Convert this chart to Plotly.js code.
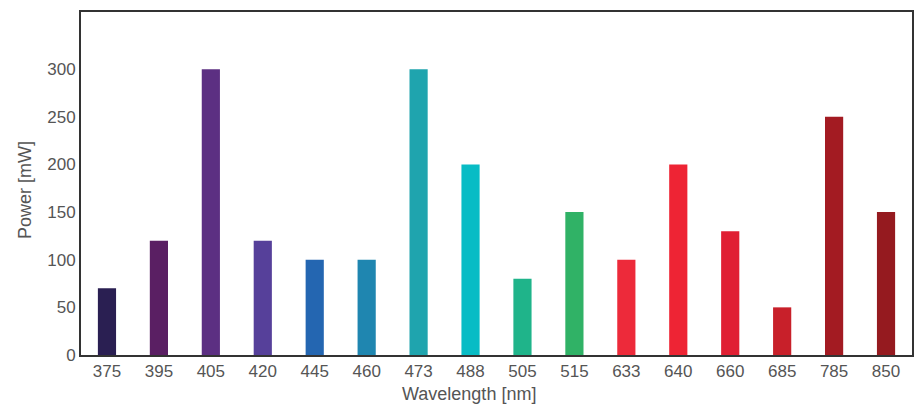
<!DOCTYPE html>
<html><head><meta charset="utf-8">
<script src="https://cdn.plot.ly/plotly-3.0.1.min.js"></script>
<style>html,body{margin:0;padding:0;background:#fff}</style>
</head><body>
<div id="chart" style="width:916px;height:411px"></div>
<script>
const wavelengths = ['375','395','405','420','445','460','473','488','505','515','633','640','660','685','785','850'];
const powers = [70,120,300,120,100,100,300,200,80,150,100,200,130,50,250,150];
const barColors = ['#2a1f52','#5a1f63','#5c2f82','#56409a','#2466b1','#1f86b0','#1fa4ae','#08bcc5','#1fb48a','#30b266','#ed2a3a','#ee2434','#e01f33','#c8202a','#a31b22','#951a1f'];
const xTitle = 'Wavelength [nm]';
const yTitle = 'Power [mW]';

const trace = {type:'bar', x:wavelengths, y:powers, marker:{color:barColors, line:{width:0}}, hoverinfo:'x+y'};
const layout = {
  width:916, height:411,
  margin:{l:81, r:4, t:12, b:56},
  paper_bgcolor:'#fff', plot_bgcolor:'#fff',
  bargap:0.65,
  showlegend:false,
  font:{family:'Liberation Sans, Arial, sans-serif', color:'#555', size:17},
  xaxis:{type:'category', showgrid:false, zeroline:false, showline:true, linecolor:'#333', linewidth:2, mirror:true, ticks:'', ticklen:0, tickfont:{size:17, color:'#555'}},
  yaxis:{range:[0,360], tickvals:[0,50,100,150,200,250,300], showgrid:false, zeroline:false, showline:true, linecolor:'#333', linewidth:2, mirror:true, ticks:'', tickfont:{size:17, color:'#555'}},
  annotations:[
    {text:xTitle, xref:'paper', yref:'paper', x:0.467, y:-0.113, xanchor:'center', yanchor:'middle', showarrow:false, font:{size:18, color:'#555'}},
    {text:yTitle, xref:'paper', yref:'paper', x:-0.0675, y:0.481, xanchor:'center', yanchor:'middle', textangle:-90, showarrow:false, font:{size:18, color:'#555'}}
  ]
};
Plotly.newPlot('chart',[trace],layout,{displayModeBar:false, staticPlot:true});
</script>
</body></html>
